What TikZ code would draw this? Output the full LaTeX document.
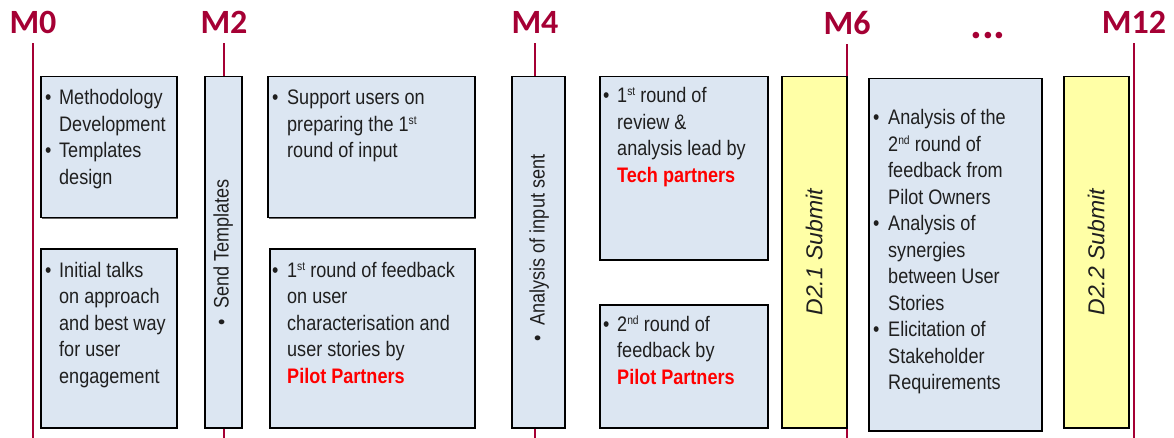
\documentclass[tikz,border=0pt]{standalone}
\usepackage{fontspec}
\setmainfont{Liberation Sans}[FakeStretch=0.86]
\newfontfamily\msfont{Carlito}
\newfontfamily\subfont{Liberation Sans}
\usetikzlibrary{shadows}
\definecolor{mred}{RGB}{165,0,52}
\definecolor{boxblue}{RGB}{220,230,242}
\definecolor{boxyellow}{RGB}{255,255,166}
\definecolor{txtred}{RGB}{255,0,0}
\newcommand{\hl}[1]{\textcolor{txtred}{\bfseries #1}}
\newcommand{\bpt}{\textbullet}
\newcommand{\sups}[1]{\raisebox{7pt}{\fontsize{12}{12}\selectfont #1}}

\tikzset{
  box/.style={draw=black, line width=1.5pt, fill=boxblue, anchor=north west, inner sep=0pt,
    drop shadow={shadow xshift=1.3pt, shadow yshift=-1.3pt, opacity=0.6, fill=black}},
  subbox/.style={box, fill=boxyellow},
  txt/.style={anchor=base west, inner sep=0pt, text=black!88, align=left,
    font=\fontsize{21}{26.5}\selectfont},
  vtxt/.style={inner sep=0pt, text=black!88, rotate=90, font=\fontsize{21}{26.5}\selectfont},
  subtxt/.style={inner sep=0pt, text=black!88, rotate=90, font=\subfont\itshape\fontsize{23}{28}\selectfont},
  mlab/.style={anchor=base, inner sep=0pt, text=mred, font=\msfont\bfseries\fontsize{34}{40}\selectfont},
  mline/.style={draw=mred, line width=1.6pt}
}

\begin{document}
\begin{tikzpicture}[x=1pt,y=-1pt]
\useasboundingbox (0,0) rectangle (1174,438);
\coordinate (bot) at (0,438);

% milestones
\node[mlab] (m0) at (33,34) {M0};
\node[mlab] (m2) at (224,34) {M2};
\node[mlab] (m4) at (535,34) {M4};
\node[mlab] (m6) at (847,35) {M6};
\node[mlab, font=\msfont\bfseries\fontsize{44}{48}\selectfont] (mdots) at (988,39) {...};
\node[mlab] (m12) at (1134,34) {M12};
\foreach \m in {m0,m2,m4,m6,m12}
  \draw[mline] ([yshift=-9pt]\m.south) -- (\m.south |- bot);

% column M0-M2
\node[box, minimum width=136pt, minimum height=141pt] (meth) at (40,76) {};
\node[txt] (methtxt) at (45,105) {\begin{tabular}[t]{@{}p{14pt}@{}l@{}}
\bpt & Methodology\\ & Development\\ \bpt & Templates\\ & design\end{tabular}};
\node[box, minimum width=136pt, minimum height=179pt] (talks) at (40,248) {};
\node[txt] (talkstxt) at (45,277) {\begin{tabular}[t]{@{}p{14pt}@{}l@{}}
\bpt & Initial talks\\ & on approach\\ & and best way\\ & for user\\ & engagement\end{tabular}};
\node[box, minimum width=37pt, minimum height=351pt] (send) at (204,76) {};
\node[vtxt] (sendtxt) at (send.center) {\bpt\ \ Send Templates};

% column M2-M4
\node[box, minimum width=207pt, minimum height=141pt] (supp) at (267,76) {};
\node[txt] (supptxt) at (272,105) {\begin{tabular}[t]{@{}p{15pt}@{}l@{}}
\bpt & Support users on\\ & preparing the 1\sups{st}\\ & round of input\end{tabular}};
\node[box, minimum width=205pt, minimum height=179pt] (fb1) at (269,248) {};
\node[txt] (fb1txt) at (272,277) {\begin{tabular}[t]{@{}p{15pt}@{}l@{}}
\bpt & 1\sups{st} round of feedback\\ & on user\\ & characterisation and\\ & user stories by\\ & \hl{Pilot Partners}\end{tabular}};
\node[box, minimum width=53pt, minimum height=351pt] (anin) at (511,76) {};
\node[vtxt] (anintxt) at ([xshift=1pt,yshift=4pt]anin.center) {\bpt\ \ Analysis of input sent};

% column M4-M6
\node[box, minimum width=168pt, minimum height=183pt] (rev) at (599,76) {};
\node[txt] (revtxt) at (603,103) {\begin{tabular}[t]{@{}p{14pt}@{}l@{}}
\bpt & 1\sups{st} round of\\ & review \&\\ & analysis lead by\\ & \hl{Tech partners}\end{tabular}};
\node[box, minimum width=168pt, minimum height=123pt] (fb2) at (599,304) {};
\node[txt] (fb2txt) at (603,331) {\begin{tabular}[t]{@{}p{14pt}@{}l@{}}
\bpt & 2\sups{nd} round of\\ & feedback by\\ & \hl{Pilot Partners}\end{tabular}};
\node[subbox, minimum width=65pt, minimum height=351pt] (d21) at (781,76) {};
\node[subtxt] (d21txt) at (d21.center) {D2.1 Submit};

% column M6-M12
\node[box, minimum width=173pt, minimum height=352pt] (ana) at (868,78) {};
\node[txt] (anatxt) at (873,125) {\begin{tabular}[t]{@{}p{15pt}@{}l@{}}
\bpt & Analysis of the\\ & 2\sups{nd} round of\\ & feedback from\\ & Pilot Owners\\
\bpt & Analysis of\\ & synergies\\ & between User\\ & Stories\\
\bpt & Elicitation of\\ & Stakeholder\\ & Requirements\end{tabular}};
\node[subbox, minimum width=65pt, minimum height=351pt] (d22) at (1063,76) {};
\node[subtxt] (d22txt) at (d22.center) {D2.2 Submit};

\end{tikzpicture}
\end{document}
